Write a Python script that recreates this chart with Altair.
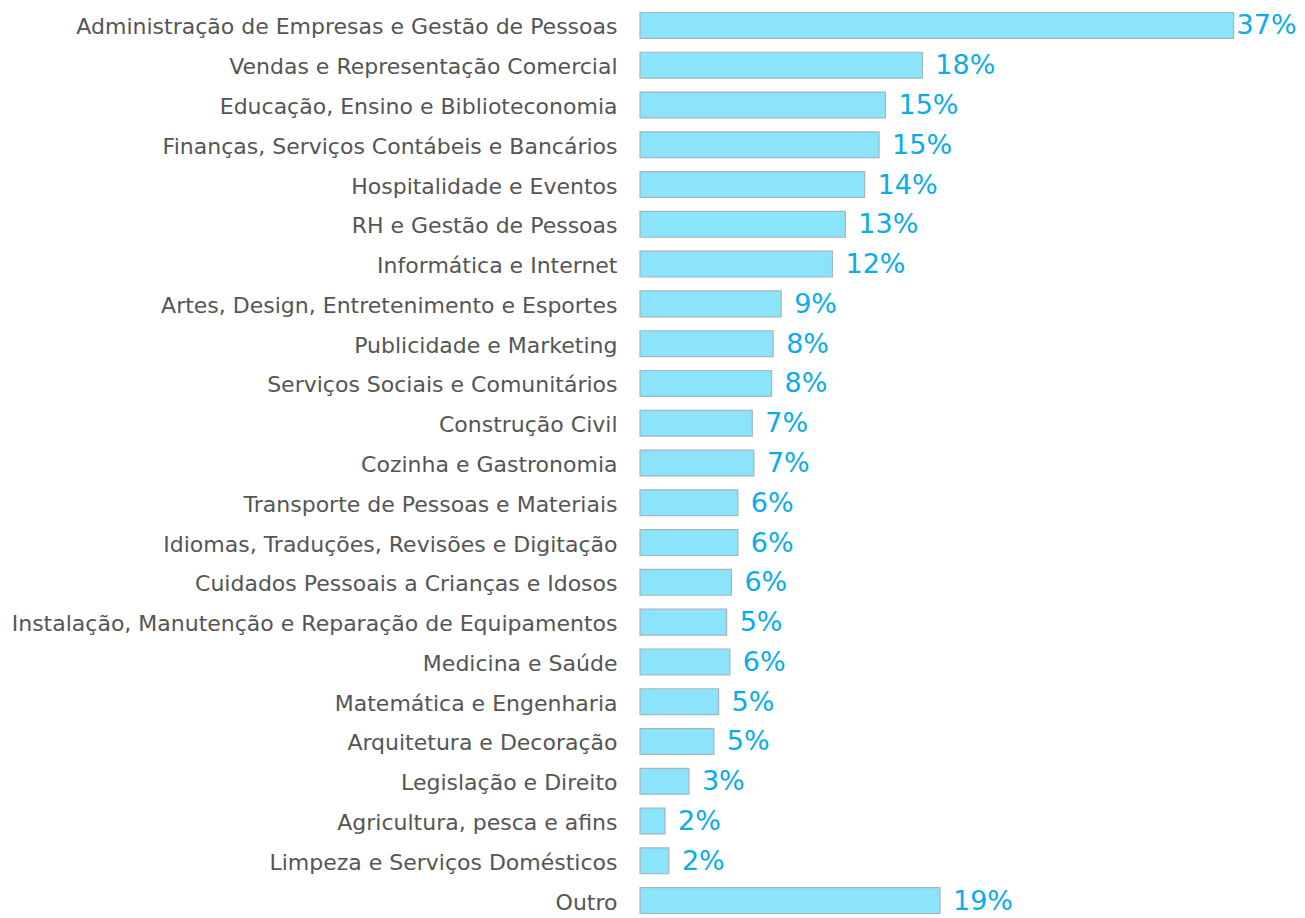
import altair as alt
import pandas as pd

categories = [
    "Administração de Empresas e Gestão de Pessoas",
    "Vendas e Representação Comercial",
    "Educação, Ensino e Biblioteconomia",
    "Finanças, Serviços Contábeis e Bancários",
    "Hospitalidade e Eventos",
    "RH e Gestão de Pessoas",
    "Informática e Internet",
    "Artes, Design, Entretenimento e Esportes",
    "Publicidade e Marketing",
    "Serviços Sociais e Comunitários",
    "Construção Civil",
    "Cozinha e Gastronomia",
    "Transporte de Pessoas e Materiais",
    "Idiomas, Traduções, Revisões e Digitação",
    "Cuidados Pessoais a Crianças e Idosos",
    "Instalação, Manutenção e Reparação de Equipamentos",
    "Medicina e Saúde",
    "Matemática e Engenharia",
    "Arquitetura e Decoração",
    "Legislação e Direito",
    "Agricultura, pesca e afins",
    "Limpeza e Serviços Domésticos",
    "Outro",
]
values = [37.0, 17.6, 15.3, 14.9, 14.0, 12.8, 12.0, 8.8, 8.3, 8.2, 7.0, 7.1,
          6.1, 6.1, 5.7, 5.4, 5.6, 4.9, 4.6, 3.05, 1.56, 1.8, 18.7]
labels = ["37%", "18%", "15%", "15%", "14%", "13%", "12%", "9%", "8%", "8%",
          "7%", "7%", "6%", "6%", "6%", "5%", "6%", "5%", "5%", "3%", "2%",
          "2%", "19%"]

df = pd.DataFrame({"cat": categories, "val": values, "lab": labels})

FONT = "DejaVu Sans"

y_enc = alt.Y(
    "cat:N",
    sort=None,
    title=None,
    scale=alt.Scale(paddingInner=0.35, paddingOuter=0.1125),
    axis=alt.Axis(
        domain=False, ticks=False, grid=False, labelPadding=23, labelFontSize=22,
        labelColor="#555555", labelFont=FONT, labelFontWeight="normal",
        labelLimit=700, labelOffset=2,
    ),
)
x_enc = alt.X(
    "val:Q",
    title=None,
    scale=alt.Scale(domain=[0, 37.4], nice=False, zero=True),
    axis=None,
)

base = alt.Chart(df)

bars = base.mark_bar(
    fill="#8BE3FC", stroke="#A3B6BF", strokeWidth=1.2, cornerRadius=0
).encode(x=x_enc, y=y_enc)

texts = base.transform_filter("datum.val < 30").mark_text(
    align="left", baseline="middle", dx=13, dy=1, fontSize=27,
    font=FONT, fontWeight="normal", color="#0AACEC",
).encode(x=x_enc, y=y_enc, text="lab:N")

texts_top = base.transform_filter("datum.val >= 30").mark_text(
    align="left", baseline="middle", dx=3, dy=1, fontSize=27,
    font=FONT, fontWeight="normal", color="#0AACEC",
).encode(x=x_enc, y=y_enc, text="lab:N")

chart = (
    alt.layer(bars, texts, texts_top)
    .properties(
        width=600, height=910,
        background="white",
        autosize=alt.AutoSizeParams(type="none"),
        padding={"left": 632, "top": 0, "right": 57, "bottom": 0},
    )
    .configure_view(strokeWidth=0, stroke="transparent")
)

chart.save("out.html", embed_options={"renderer": "svg", "actions": False})
